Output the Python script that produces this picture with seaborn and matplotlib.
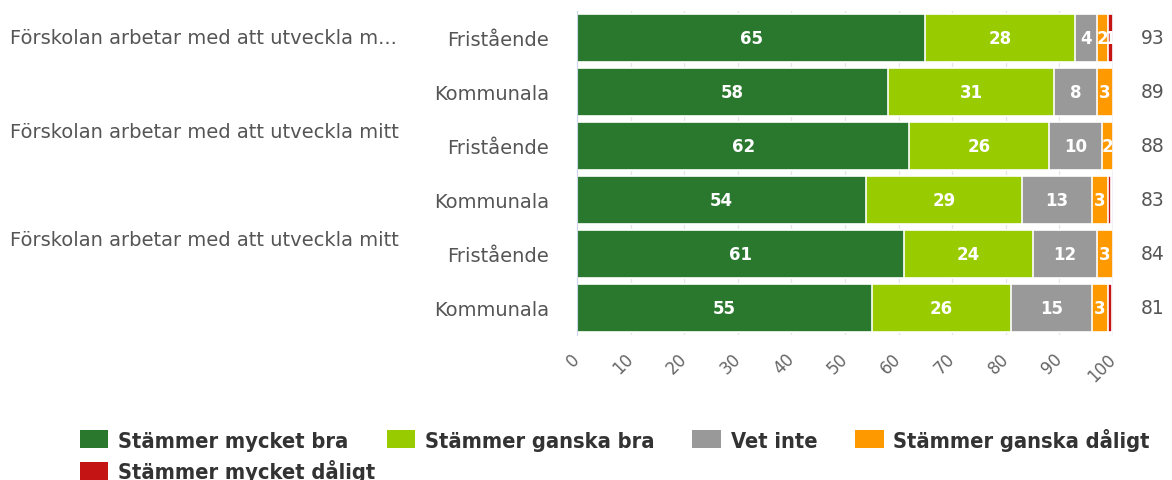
import matplotlib
matplotlib.use("Agg")
import matplotlib.pyplot as plt
import matplotlib.transforms as mtransforms
from matplotlib.patches import Patch
from matplotlib import font_manager
import numpy as np
import pandas as pd
import seaborn as sns

# Data
questions = ['Förskolan arbetar med att utveckla m...',
             'Förskolan arbetar med att utveckla mitt',
             'Förskolan arbetar med att utveckla mitt']
question_pos = [0.0, 1.73, 3.74]
groups = ['Fristående', 'Kommunala', 'Fristående', 'Kommunala', 'Fristående', 'Kommunala']
categories = ['Stämmer mycket bra', 'Stämmer ganska bra', 'Vet inte',
              'Stämmer ganska dåligt', 'Stämmer mycket dåligt']
mycket_bra = [65, 58, 62, 54, 61, 55]
ganska_bra = [28, 31, 26, 29, 24, 26]
vet_inte = [4, 8, 10, 13, 12, 15]
ganska_daligt = [2, 3, 2, 3, 3, 3]
mycket_daligt = [1, 0.6, 0.6, 0.7, 0.6, 0.8]
totals = [93, 89, 88, 83, 84, 81]
colors = ['#2a772e', '#99cc00', '#999999', '#ff9900', '#c41414']

series = [mycket_bra, ganska_bra, vet_inte, ganska_daligt, mycket_daligt]
row_ids = [f'r{i}' for i in range(len(groups))]
vals = np.array(series, dtype=float)
cum = np.cumsum(vals, axis=0)

sns.set_style('white')
fig = plt.figure(figsize=(11.72, 4.81), dpi=100)
ax = fig.add_axes([577 / 1172, 1 - 336 / 481, (1113 - 577) / 1172, (336 - 12) / 481])

# stacked bars: draw cumulative totals from the largest down
for k in range(len(series) - 1, -1, -1):
    df = pd.DataFrame({'row': row_ids, 'value': cum[k]})
    sns.barplot(data=df, y='row', x='value', order=row_ids, orient='h',
                color=colors[k], saturation=1, width=0.89,
                edgecolor='white', linewidth=1.2, ax=ax, zorder=2)

# value labels
for k in range(len(series)):
    for i in range(len(groups)):
        v = vals[k, i]
        if v >= 1:
            ax.text(cum[k, i] - v / 2, i, f'{v:.0f}', ha='center', va='center',
                    color='white', fontsize=12, fontweight='bold', zorder=5,
                    clip_on=True)

ax.set_xlim(0, 100)
ax.set_ylim(len(groups) - 0.5, -0.5)
ax.set_xlabel('')
ax.set_ylabel('')
ax.set_xticks(range(0, 101, 10))
ax.set_xticklabels([str(t) for t in range(0, 101, 10)], rotation=45, ha='right',
                   va='center', rotation_mode='anchor')
ax.tick_params(axis='x', length=0, pad=15, labelsize=12, labelcolor='#666666')
ax.set_yticks(range(len(groups)))
ax.set_yticklabels(groups)
ax.tick_params(axis='y', length=0, pad=20, labelsize=14, labelcolor='#555555')
ax.set_yticks(np.arange(-0.5, len(groups)), minor=True)
ax.tick_params(axis='y', which='minor', length=12, color='#ccd6eb', width=1)
ax.grid(axis='x', color='#e6e6e6', linewidth=1, zorder=0)
ax.set_axisbelow(True)
for s in ['top', 'bottom', 'right']:
    ax.spines[s].set_visible(False)
ax.spines['left'].set_color('#ccd6eb')
ax.axvline(100, color='#ccd6eb', linewidth=1, zorder=4)

# totals at the right
for i, t in enumerate(totals):
    ax.text(1.052, i, str(t), transform=mtransforms.blended_transform_factory(ax.transAxes, ax.transData),
            ha='left', va='center', fontsize=13.5, color='#555555')

# question labels
trans = mtransforms.blended_transform_factory(fig.transFigure, ax.transData)
for q, p in zip(questions, question_pos):
    ax.text(10 / 1172, p, q, transform=trans, ha='left', va='center',
            fontsize=14, color='#555555')

# legend
legend_font = font_manager.FontProperties(family='DejaVu Sans', weight='bold',
                                          stretch='condensed', size=15.7)
handles = [Patch(facecolor=c, edgecolor='none') for c in colors]
common = dict(loc='center left', frameon=False, borderpad=0, borderaxespad=0,
              handlelength=1.3, handleheight=0.95, handletextpad=0.45,
              prop=legend_font, labelcolor='#333333')
leg1 = fig.legend(handles[:4], categories[:4], bbox_to_anchor=(80 / 1172, 1 - 440 / 481),
                  ncol=4, columnspacing=1.75, **common)
leg2 = fig.legend(handles[4:], categories[4:], bbox_to_anchor=(80 / 1172, 1 - 472 / 481),
                  ncol=1, **common)

fig.savefig('out.png', dpi=100)
